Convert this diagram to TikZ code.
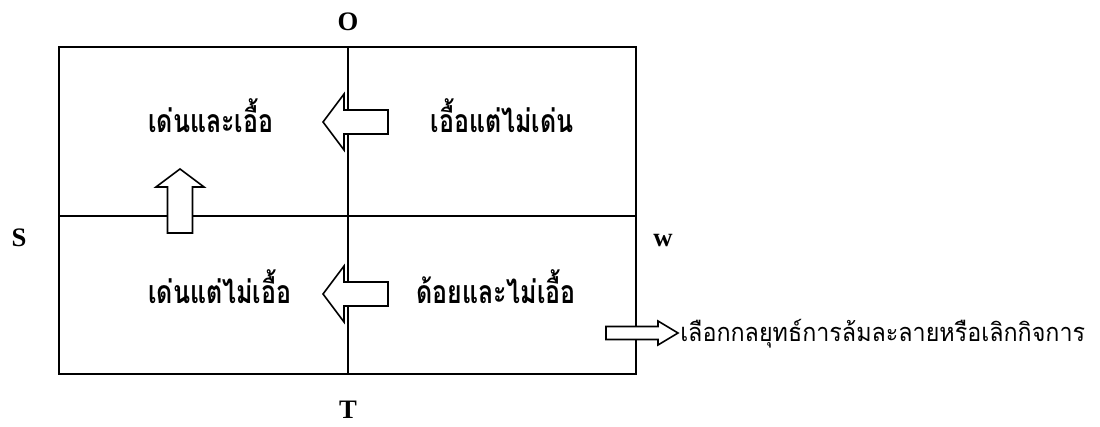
\documentclass[tikz,border=0pt]{standalone}
\usepackage{fontspec}
\setmainfont{Liberation Serif}
\newfontfamily\thaifont[Script=Thai,FakeStretch=0.78]{Loma}
\newfontfamily\thainote[Script=Thai,FakeStretch=0.92]{Loma}
\usetikzlibrary{calc}
\tikzset{
    swbox/.style={line width=1.5pt},
    swline/.style={line width=1pt},
    swcell/.style={font=\thaifont\bfseries\fontsize{24}{28}\selectfont, inner sep=0pt, anchor=base},
    swaxis/.style={font=\bfseries\fontsize{20}{23}\selectfont, inner sep=0pt, anchor=base},
    swnote/.style={font=\thainote\fontsize{19}{22}\selectfont, inner sep=0pt, anchor=base west},
    hollowarrow/.style={draw, fill=white, line width=1.2pt, line join=miter}
}

\begin{document}
\begin{tikzpicture}[x=0.75pt, y=-0.75pt]
  \useasboundingbox (0,0) rectangle (1100,427);
  \coordinate (tl) at (59,47);
  \coordinate (br) at (636,374);
  \coordinate (mid) at (348,216);
  \draw[swline] (tl -| mid) -- (br -| mid);
  \draw[swline] (tl |- mid) -- (br |- mid);
  \draw[swbox] (tl) rectangle (br);
  \foreach \y in {122,294} {
      \draw[hollowarrow, shift={(323,\y)}] (0,0) -- (21,-28) -- (21,-12) -- (65,-12)
          -- (65,12) -- (21,12) -- (21,28) -- cycle;
  }
  \draw[hollowarrow, shift={(180,169)}] (0,0) -- (24,18) -- (12.5,18) -- (12.5,64)
      -- (-12.5,64) -- (-12.5,18) -- (-24,18) -- cycle;
  \draw[hollowarrow, shift={(678,333)}] (0,0) -- (-20,-12) -- (-20,-6.5) -- (-72,-6.5)
      -- (-72,6.5) -- (-20,6.5) -- (-20,12) -- cycle;
  \node[swcell, anchor=base west] (so) at (148,133) {เด่นและเอื้อ};
  \node[swcell] (wo) at (502,133) {เอื้อแต่ไม่เด่น};
  \node[swcell, anchor=base west] (st) at (148,304) {เด่นแต่ไม่เอื้อ};
  \node[swcell] (wt) at (496,304) {ด้อยและไม่เอื้อ};
  \node[swnote] (exit) at (680,342) {เลือกกลยุทธ์การล้มละลายหรือเลิกกิจการ};
  \node[swaxis] (o) at (348,31) {O};
  \node[swaxis] (t) at (348,419) {T};
  \node[swaxis] (s) at (19,247) {S};
  \node[swaxis] (w) at (663,247) {w};
\end{tikzpicture}
\end{document}
